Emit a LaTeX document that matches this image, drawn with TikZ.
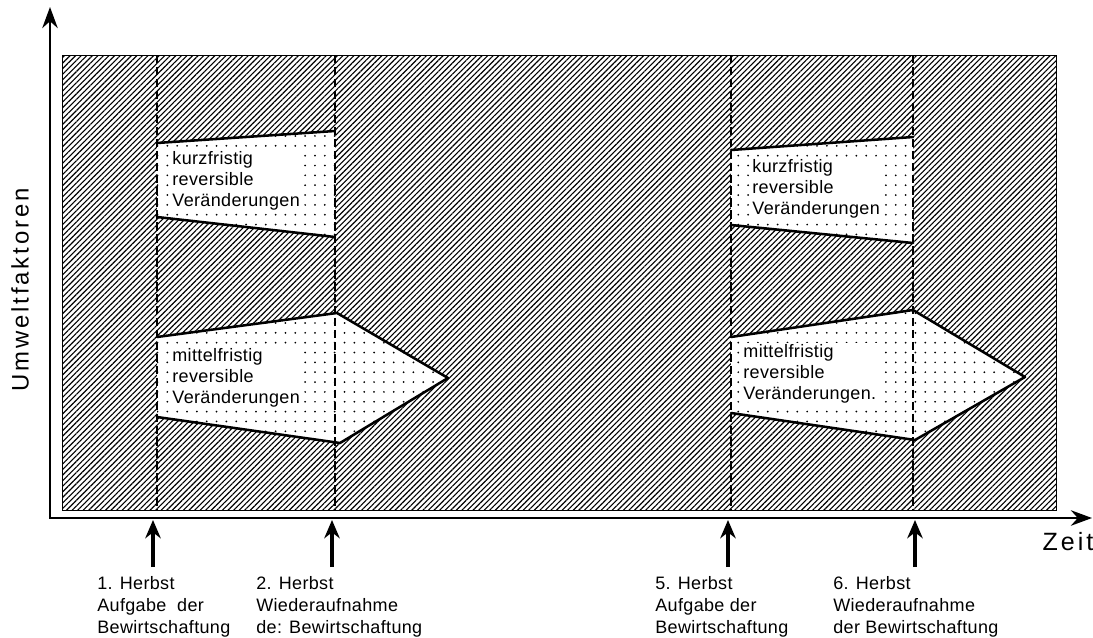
\documentclass[tikz,border=0pt]{standalone}
\usepackage{fontspec}
\setmainfont{Liberation Sans}
\usepackage{tikz}
\usetikzlibrary{arrows.meta,positioning,patterns.meta}
\newfontfamily\boxfont[LetterSpace=2]{Liberation Sans}
\newfontfamily\axisfont[LetterSpace=12]{Liberation Sans}

\begin{document}
\begin{tikzpicture}[
			x=0.025cm, y=-0.025cm,
			hatch/.style={pattern={Lines[angle=45,distance=2.8pt,line width=0.8pt]}, line width=0.6pt},
			dotarea/.style={fill=white, postaction={pattern={Dots[distance=7pt,radius=0.7pt]}}},
			edge/.style={line width=1.8pt, line join=round, line cap=round},
			phase/.style={line width=1pt, dash pattern=on 6pt off 2.5pt},
			axis/.style={{Stealth[length=15pt,width=11pt]}-{Stealth[length=15pt,width=11pt]}, line width=1.8pt},
			arrow/.style={-{Stealth[length=13pt,width=11pt]}, line width=2.2pt},
			boxtext/.style={fill=white, inner sep=1.5pt, align=left, anchor=west,
				font=\boxfont\fontsize{12.8}{14.9}\selectfont},
			herbst/.style={anchor=north west, align=left, inner sep=0pt,
				font=\boxfont\fontsize{12.8}{15.6}\selectfont}
			]
			\useasboundingbox (0,0) rectangle (1093,638);
			\draw[hatch] (62,55) rectangle (1056,510);

			\path[dotarea] (157,143) -- (335,131) -- (335,237) -- (157,217) -- cycle;
			\draw[edge] (157,143) -- (335,131);
			\draw[edge] (335,237) -- (157,217);
			\path[dotarea] (157,337) -- (337,313) -- (448,378) -- (340,443) -- (157,417) -- cycle;
			\draw[edge] (157,337) -- (337,313) -- (448,378) -- (340,443) -- (157,417);
			\path[dotarea] (731,150) -- (913,137) -- (913,243) -- (731,225) -- cycle;
			\draw[edge] (731,150) -- (913,137);
			\draw[edge] (913,243) -- (731,225);
			\path[dotarea] (731,337) -- (913,310) -- (1025,377) -- (915,440) -- (731,413) -- cycle;
			\draw[edge] (731,337) -- (913,310) -- (1025,377) -- (915,440) -- (731,413);

			\draw[phase] (157,55) -- (157,510);
			\draw[phase] (335,55) -- (335,510);
			\draw[phase] (731,55) -- (731,510);
			\draw[phase] (913,55) -- (913,510);

			\node[boxtext] (kurz1) at (170,181) {kurzfristig\\reversible\\Veränderungen};
			\node[boxtext] (mittel1) at (170,378) {mittelfristig\\reversible\\Veränderungen};
			\node[boxtext] (kurz2) at (750,189) {kurzfristig\\reversible\\Veränderungen};
			\node[boxtext] (mittel2) at (741,374) {mittelfristig\\reversible\\Veränderungen.};

			\coordinate (ytip) at (50,7);
			\coordinate (xtip) at (1092,518);
			\draw[axis] (ytip) |- (xtip);
			\node[rotate=90, font=\axisfont\fontsize{17}{20}\selectfont] (umwelt) at (20,290) {Umweltfaktoren};
			\node[font=\axisfont\fontsize{17.8}{20}\selectfont, inner sep=0pt] (zeit) at (1068,542) {Zeit};

			\coordinate (t1) at (153,520);
			\coordinate (t2) at (332,520);
			\coordinate (t5) at (728,520);
			\coordinate (t6) at (915,520);
			\coordinate (a1) at (153,567);
			\coordinate (a2) at (332,567);
			\coordinate (a5) at (728,567);
			\coordinate (a6) at (915,567);
			\draw[arrow] (a1) -- (t1);
			\draw[arrow] (a2) -- (t2);
			\draw[arrow] (a5) -- (t5);
			\draw[arrow] (a6) -- (t6);

			\node[herbst] (h1) at (97,576) {1. Herbst\\Aufgabe\ \ der\\Bewirtschaftung};
			\node[herbst] (h2) at (256,576) {2. Herbst\\Wiederaufnahme\\de: Bewirtschaftung};
			\node[herbst] (h5) at (655,576) {5. Herbst\\Aufgabe der\\Bewirtschaftung};
			\node[herbst] (h6) at (833,576) {6. Herbst\\Wiederaufnahme\\der Bewirtschaftung};
		\end{tikzpicture}
\end{document}
